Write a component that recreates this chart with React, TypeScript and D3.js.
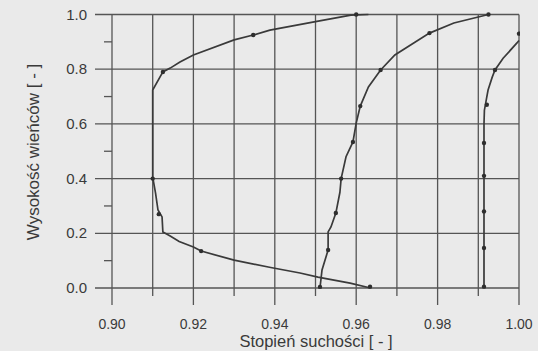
import React from "react";
import * as d3 from "d3";

const W = 538;
const H = 351;

// Curve 1 (left, C-shaped)
const curve1X = [0.9635, 0.9585, 0.9506, 0.9462, 0.939, 0.930, 0.9219, 0.920, 0.9165, 0.9143, 0.9125, 0.9123, 0.9113, 0.9107, 0.9100, 0.9100, 0.9100, 0.9125, 0.9143, 0.9167, 0.920, 0.930, 0.9347, 0.9388, 0.950, 0.9587, 0.963];
const curve1Y = [0.0, 0.018, 0.04, 0.055, 0.075, 0.102, 0.135, 0.15, 0.17, 0.19, 0.205, 0.26, 0.285, 0.347, 0.405, 0.55, 0.724, 0.79, 0.804, 0.826, 0.852, 0.907, 0.925, 0.943, 0.974, 0.998, 1.0];

// Curve 2 (middle)
const curve2X = [0.9511, 0.9516, 0.9531, 0.9531, 0.9538, 0.955, 0.956, 0.9563, 0.9575, 0.9592, 0.960, 0.961, 0.963, 0.966, 0.9695, 0.978, 0.984, 0.9925];
const curve2Y = [0.0, 0.066, 0.139, 0.205, 0.223, 0.274, 0.35, 0.40, 0.48, 0.534, 0.603, 0.665, 0.735, 0.797, 0.852, 0.932, 0.969, 1.0];

// Curve 3 (right, near vertical)
const curve3X = [0.9914, 0.9914, 0.9914, 0.9915, 0.9921, 0.9924, 0.9934, 0.9941, 0.9961, 0.9995, 1.0];
const curve3Y = [0.0, 0.40, 0.60, 0.65, 0.70, 0.724, 0.77, 0.797, 0.84, 0.896, 0.905];

// Markers
const marker1X = [0.9634, 0.9219, 0.9115, 0.9100, 0.9125, 0.9347, 0.960];
const marker1Y = [0.005, 0.135, 0.27, 0.40, 0.79, 0.925, 1.0];
const marker2X = [0.9511, 0.9531, 0.955, 0.9563, 0.9592, 0.961, 0.966, 0.978, 0.9925];
const marker2Y = [0.004, 0.139, 0.274, 0.40, 0.534, 0.665, 0.797, 0.932, 1.0];
const marker3X = [0.9914, 0.9914, 0.9914, 0.9914, 0.9914, 0.9921, 0.9941, 1.0];
const marker3Y = [0.005, 0.146, 0.28, 0.41, 0.53, 0.67, 0.797, 0.93];

const xGrid = [0.90, 0.91, 0.92, 0.93, 0.94, 0.95, 0.96, 0.97, 0.98, 0.99, 1.00];
const xLabels = ["0.90", "0.92", "0.94", "0.96", "0.98", "1.00"];
const yGrid = [0.0, 0.2, 0.4, 0.6, 0.8, 1.0];
const yLabels = ["0.0", "0.2", "0.4", "0.6", "0.8", "1.0"];
const yMinor = [0.1, 0.3, 0.5, 0.7, 0.9];

const xTitle = "Stopień suchości [ - ]";
const yTitle = "Wysokość wieńców [ - ]";

export default function App() {
  const x = d3.scaleLinear().domain([0.9, 1.0]).range([112, 519]);
  const y = d3.scaleLinear().domain([0, 1]).range([288, 14.5]);
  const line = d3
    .line<[number, number]>()
    .x((d) => x(d[0]))
    .y((d) => y(d[1]));

  const curves = [
    d3.zip(curve1X, curve1Y) as [number, number][],
    d3.zip(curve2X, curve2Y) as [number, number][],
    d3.zip(curve3X, curve3Y) as [number, number][],
  ];
  const markers = [
    d3.zip(marker1X, marker1Y) as [number, number][],
    d3.zip(marker2X, marker2Y) as [number, number][],
    d3.zip(marker3X, marker3Y) as [number, number][],
  ];

  const gridColor = "#555555";
  const textColor = "#3a3a3a";
  const font = "'Liberation Sans', Arial, sans-serif";

  return (
    <svg
      width={W}
      height={H}
      style={{ position: "fixed", left: 0, top: 0, background: "#eaeaea" }}
    >
      <rect x={0} y={0} width={W} height={H} fill="#eaeaea" />
      <defs>
        <clipPath id="plotclip">
          <rect x={x(0.9)} y={y(1.0) - 3} width={x(1.0) - x(0.9) + 1} height={y(0) - y(1.0) + 6} />
        </clipPath>
      </defs>
      {/* vertical grid with ticks below */}
      {xGrid.map((v, i) => (
        <line
          key={"vx" + i}
          x1={x(v)}
          x2={x(v)}
          y1={y(1.0)}
          y2={y(0) + (i % 2 === 0 ? 17 : 8)}
          stroke={gridColor}
          strokeWidth={1.3}
        />
      ))}
      {/* horizontal grid with ticks left */}
      {yGrid.map((v, i) => (
        <line
          key={"hy" + i}
          x1={x(0.9) - 17}
          x2={x(1.0)}
          y1={y(v)}
          y2={y(v)}
          stroke={gridColor}
          strokeWidth={1.3}
        />
      ))}
      {yMinor.map((v, i) => (
        <line
          key={"my" + i}
          x1={x(0.9) - 8}
          x2={x(0.9)}
          y1={y(v)}
          y2={y(v)}
          stroke={gridColor}
          strokeWidth={1.3}
        />
      ))}
      {/* curves */}
      <g clipPath="url(#plotclip)">
        {curves.map((c, i) => (
          <path key={"c" + i} d={line(c) || ""} fill="none" stroke="#3a3a3a" strokeWidth={1.7} />
        ))}
        {markers.map((m, i) =>
          m.map((p, j) => (
            <circle key={"m" + i + "-" + j} cx={x(p[0])} cy={y(p[1])} r={2.2} fill="#2e2e2e" />
          ))
        )}
      </g>
      {/* tick labels */}
      {xLabels.map((t, i) => (
        <text
          key={"xl" + i}
          x={x(+t)}
          y={329}
          textAnchor="middle"
          fontFamily={font}
          fontSize={14}
          fill={textColor}
        >
          {t}
        </text>
      ))}
      {yLabels.map((t, i) => (
        <text
          key={"yl" + i}
          x={87}
          y={y(+t) + 5}
          textAnchor="end"
          fontFamily={font}
          fontSize={15}
          fill={textColor}
        >
          {t}
        </text>
      ))}
      <text
        x={316}
        y={347}
        textAnchor="middle"
        fontFamily={font}
        fontSize={16.5}
        fill={textColor}
      >
        {xTitle}
      </text>
      <text
        transform={`translate(${39},${152}) rotate(-90)`}
        textAnchor="middle"
        fontFamily={font}
        fontSize={17}
        fill={textColor}
      >
        {yTitle}
      </text>
    </svg>
  );
}
